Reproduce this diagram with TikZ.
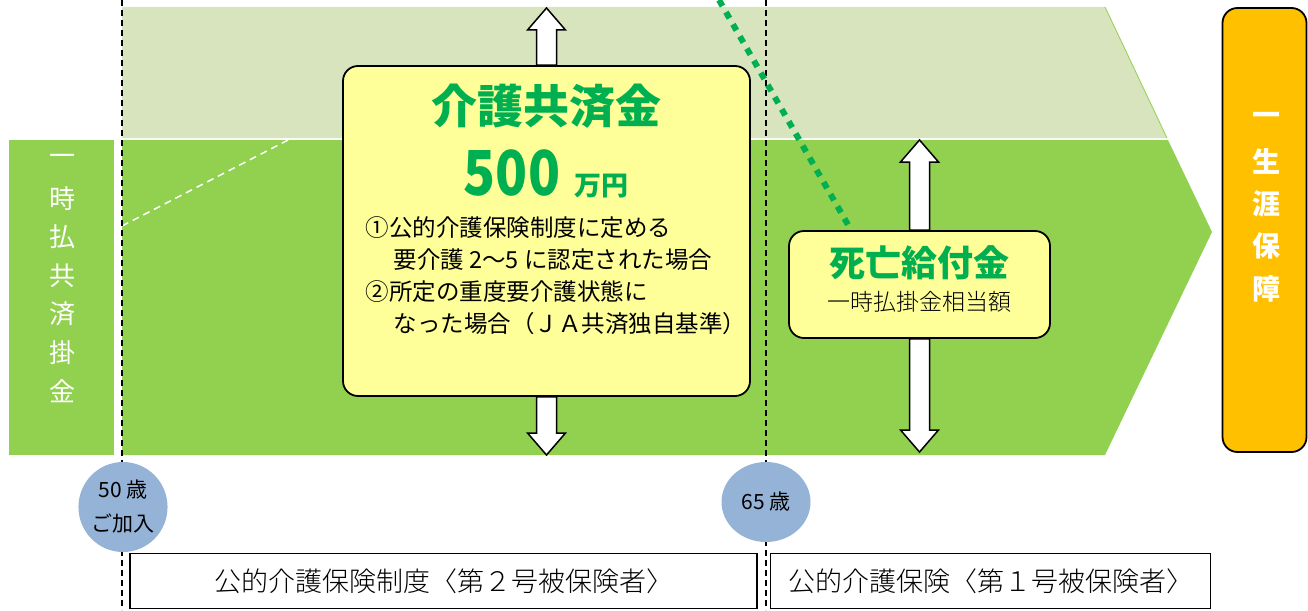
\documentclass[tikz,border=0pt]{standalone}
\usepackage{fontspec}
\setmainfont{Noto Sans CJK JP}
\newfontfamily\jplight{Noto Sans CJK JP Light}
\usetikzlibrary{calc,shapes.geometric}

\definecolor{lightband}{HTML}{D7E4BD}
\definecolor{darkband}{HTML}{92D050}
\definecolor{boxyellow}{HTML}{FFFF99}
\definecolor{titlegreen}{HTML}{00B050}
\definecolor{lifeorange}{HTML}{FFC000}
\definecolor{agefill}{HTML}{95B3D7}

\begin{document}
\begin{tikzpicture}[x=1pt,y=-1pt,
	benefitbox/.style={draw, line width=1.8pt, fill=boxyellow, rounded corners=15pt},
	blockarrow/.style={draw, line width=1.5pt, fill=white, line join=miter},
	ageline/.style={draw=black, line width=1.3pt, dash pattern=on 6pt off 4pt},
	agenode/.style={ellipse, fill=agefill, inner sep=0pt, align=center, font=\fontsize{21}{34}\selectfont},
	periodbox/.style={draw, line width=1.2pt, minimum height=55pt, font=\jplight\fontsize{27}{27}\selectfont},
	sidetext/.style={text=white, font=\fontsize{26}{26}\selectfont},
	lifetext/.style={text=white, font=\bfseries\fontsize{28}{28}\selectfont},
	condtext/.style={anchor=base west, font=\fontsize{23.5}{23.5}\selectfont},
	deathlink/.style={draw=titlegreen, line width=6pt, dash pattern=on 7pt off 7pt}
]

\useasboundingbox (0,0) rectangle (1308,610);

% bands
\fill[lightband] (122,7) -- (1105,7) -- (1167,138) -- (122,138) -- cycle;
\fill[darkband] (122,140) -- (1168,140) -- (1212,232) -- (1105,455) -- (122,455) -- cycle;
\draw[darkband, line width=0.8pt] (1105,7) -- (1167,138);
\draw[white, line width=1.5pt, dash pattern=on 7pt off 5pt] (122,226) -- (290,139);

% left box
\fill[darkband] (9,140) rectangle (114,455);
\foreach \c [count=\i] in {一,時,払,共,済,掛,金}{
	\node[sidetext] (pay\i) at (62,121.5+38.5*\i) {\c};
}

% age lines
\draw[ageline] (122,0) -- (122,610);
\draw[ageline] (766,0) -- (766,610);

% right box
\node[draw, line width=1.8pt, fill=lifeorange, rounded corners=15pt,
	minimum width=84pt, minimum height=444pt] (life) at (1264.5,230) {};
\foreach \c [count=\i] in {一,生,涯,保,障}{
	\node[lifetext] (life\i) at (1266,76+42.5*\i) {\c};
}

% care benefit
\node[benefitbox, minimum width=407pt, minimum height=330pt] (care) at (546.5,231) {};
\node[text=titlegreen, font=\bfseries\fontsize{46}{46}\selectfont] (caretitle) at (546,106) {介護共済金};
\node[anchor=base, text=titlegreen, font=\bfseries] (careamount) at (546,195)
	{{\fontsize{62}{62}\selectfont\scalebox{0.85}[1]{500}}\hspace{14pt}{\fontsize{27}{27}\selectfont 万円}};
\foreach \t/\xx [count=\i] in {①公的介護保険制度に定める/362, 要介護 2〜5 に認定された場合/390,
		②所定の重度要介護状態に/362, なった場合（ＪＡ共済独自基準）/390}{
	\node[condtext] (cond\i) at (\xx,204+32*\i) {\t};
}

% death benefit
\node[benefitbox, minimum width=261pt, minimum height=107pt] (death) at (919.5,284.5) {};
\node[text=titlegreen, font=\bfseries\fontsize{36}{36}\selectfont] (deathtitle) at (919,263) {死亡給付金};
\node[font=\jplight\fontsize{23}{23}\selectfont] (deathnote) at (919,302) {一時払掛金相当額};

% arrows
\coordinate (careup) at (care.north |- 0,8);
\coordinate (caredown) at (care.south |- 0,455);
\coordinate (deathup) at (death.north |- 0,140);
\coordinate (deathdown) at (death.south |- 0,452);
\foreach \s/\e in {care.north/careup, care.south/caredown, death.north/deathup, death.south/deathdown}{
	\draw[blockarrow] let \p1=(\s), \p2=(\e), \n1={sign(\y2-\y1)} in
		(\x1-10pt,\y1) -- (\x1-10pt,\y2-22pt*\n1) -- (\x1-19pt,\y2-22pt*\n1) -- (\x1,\y2)
		-- (\x1+19pt,\y2-22pt*\n1) -- (\x1+10pt,\y2-22pt*\n1) -- (\x1+10pt,\y1) -- cycle;
}

\coordinate (dotstart) at (719,0);
\draw[deathlink] (dotstart) -- ($(death.north west)+(63,0)$);

% ages
\node[agenode, minimum width=86pt, minimum height=90pt] (join) at (123,507) {50 歳\\ご加入};
\node[agenode, minimum width=89pt, minimum height=80pt] (senior) at (766,502) {65 歳};

% periods
\node[periodbox, minimum width=627pt] (second) at (443.5,581) {公的介護保険制度〈第２号被保険者〉};
\node[periodbox, minimum width=440pt] (first) at (990.5,581) {公的介護保険〈第１号被保険者〉};

\end{tikzpicture}
\end{document}
